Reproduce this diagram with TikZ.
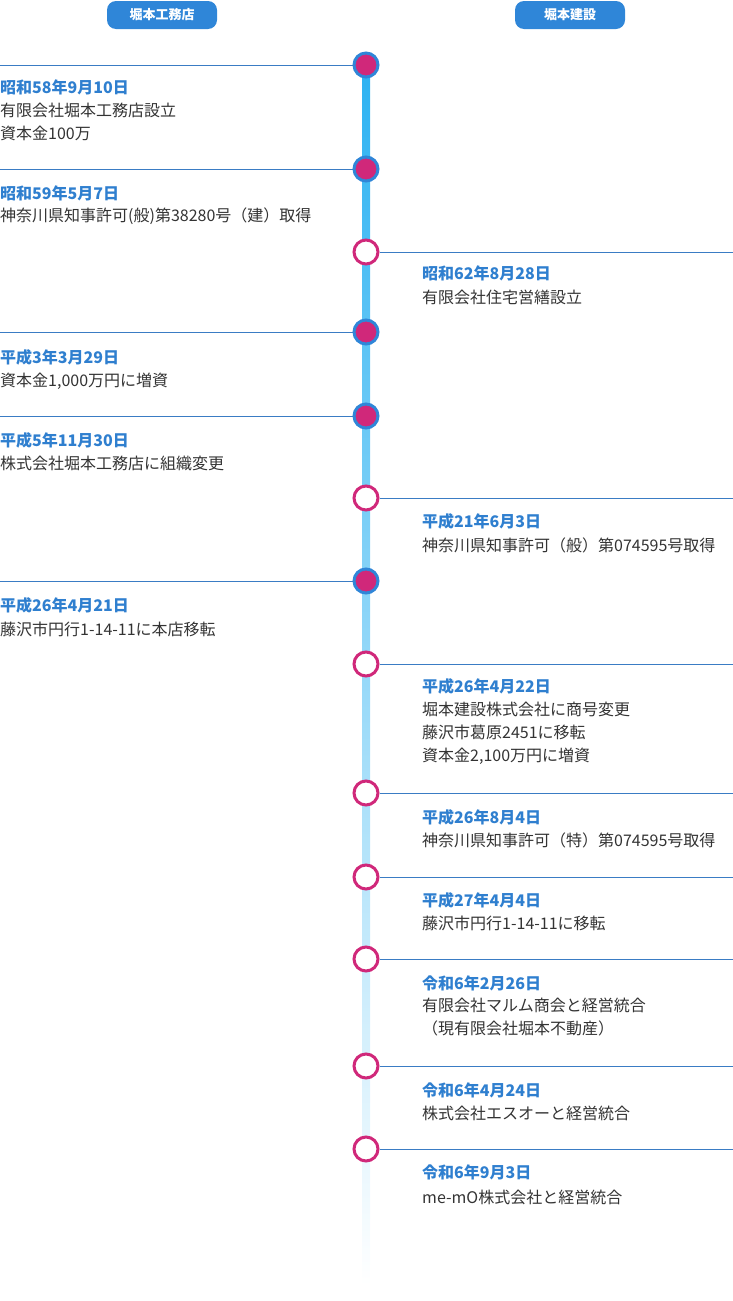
\documentclass[tikz,border=0pt]{standalone}
\usepackage{fontspec}
\setmainfont{Noto Sans CJK JP}
\usetikzlibrary{positioning}
\definecolor{hblue}{HTML}{2F86D8}
\definecolor{hdate}{HTML}{2F7FCF}
\definecolor{hpink}{HTML}{D0287A}
\definecolor{hline}{HTML}{3A7CC4}
\definecolor{htext}{HTML}{333333}
\definecolor{hcyan}{HTML}{2CB2F2}
\tikzset{
  pill/.style={fill=hblue,text=white,rounded corners=9pt,minimum width=110pt,minimum height=28pt,inner sep=0pt,font=\fontsize{13}{13}\selectfont\bfseries},
  past/.style={circle,draw=hblue,fill=hpink,line width=3pt,minimum size=24pt,inner sep=0pt},
  later/.style={circle,draw=hpink,fill=white,line width=3pt,minimum size=24pt,inner sep=0pt},
  rule/.style={draw=hline,line width=0.8pt},
  datum/.style={anchor=west,inner sep=0pt,text=hdate,font=\fontsize{16}{16}\selectfont\bfseries},
  note/.style={anchor=west,inner sep=0pt,text=htext,font=\fontsize{16}{23}\selectfont,align=left}
}
\begin{document}
\begin{tikzpicture}[x=1pt,y=-1pt]
\useasboundingbox (0,0) rectangle (733,1301);
\node[pill] (koumuten) at (162,15) {堀本工務店};
\node[pill] (kensetsu) at (570,15) {堀本建設};
% axis
\shade[top color=hcyan,bottom color=white] (362,65) rectangle (370,1285);
% left side
\foreach \n/\y in {a/65,b/169,c/332,d/416,e/581}{
  \node[past] (\n) at (366,\y) {};
  \coordinate (\n0) at (0,\y);
  \draw[rule] (\n0) -- (\n.west);
}
% right side
\foreach \n/\y in {f/252,g/498,h/664,i/793,j/877,k/959,l/1066,m/1149}{
  \node[later] (\n) at (366,\y) {};
  \coordinate (\n0) at (733,\y);
  \draw[rule] (\n.east) -- (\n0);
}
\node[datum] (da) at (0,87) {昭和58年9月10日};
\node[note] (ta) at (0,121.5) {有限会社堀本工務店設立\\資本金100万};
\node[datum] (db) at (0,193) {昭和59年5月7日};
\node[note] (tb) at (0,216) {神奈川県知事許可(般)第38280号（建）取得};
\node[datum] (dc) at (0,357) {平成3年3月29日};
\node[note] (tc) at (0,381) {資本金1,000万円に増資};
\node[datum] (dd) at (0,440) {平成5年11月30日};
\node[note] (td) at (0,463) {株式会社堀本工務店に組織変更};
\node[datum] (de) at (0,605) {平成26年4月21日};
\node[note] (te) at (0,629) {藤沢市円行1-14-11に本店移転};
\node[datum] (df) at (422,273) {昭和62年8月28日};
\node[note] (tf) at (422,297) {有限会社住宅営繕設立};
\node[datum] (dg) at (422,521) {平成21年6月3日};
\node[note] (tg) at (422,545) {神奈川県知事許可（般）第074595号取得};
\node[datum] (dh) at (422,686) {平成26年4月22日};
\node[note] (th) at (422,733.5) {堀本建設株式会社に商号変更\\藤沢市葛原2451に移転\\資本金2,100万円に増資};
\node[datum] (di) at (422,817) {平成26年8月4日};
\node[note] (ti) at (422,840) {神奈川県知事許可（特）第074595号取得};
\node[datum] (dj) at (422,900) {平成27年4月4日};
\node[note] (tj) at (422,923) {藤沢市円行1-14-11に移転};
\node[datum] (dk) at (422,983) {令和6年2月26日};
\node[note] (tk) at (422,1017.5) {有限会社マルム商会と経営統合\\（現有限会社堀本不動産）};
\node[datum] (dl) at (422,1090) {令和6年4月24日};
\node[note] (tl) at (422,1113) {株式会社エスオーと経営統合};
\node[datum] (dm) at (422,1172) {令和6年9月3日};
\node[note] (tm) at (422,1197) {me-mO株式会社と経営統合};
\end{tikzpicture}
\end{document}
